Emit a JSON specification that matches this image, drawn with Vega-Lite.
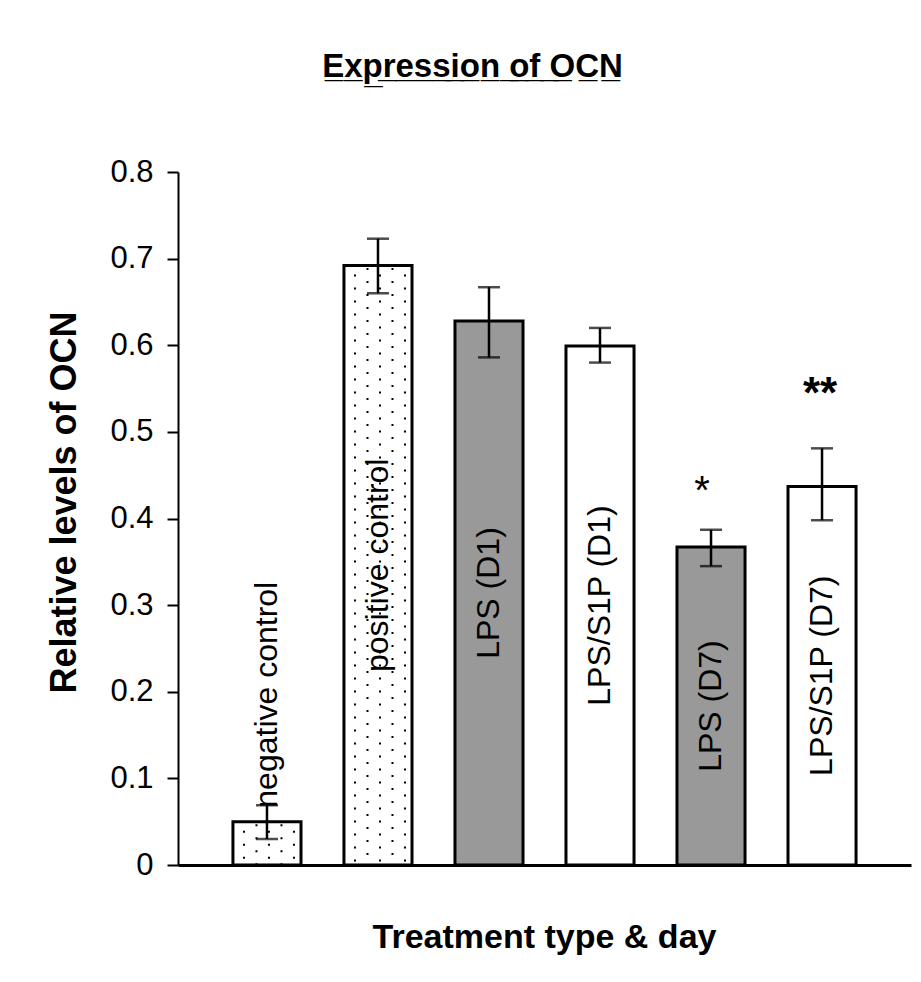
{
  "$schema": "https://vega.github.io/schema/vega-lite/v6.json",
  "width": 733,
  "height": 693,
  "autosize": {"type": "none"},
  "padding": {"left": 178, "top": 172, "right": 10, "bottom": 117},
  "background": "white",
  "config": {
    "view": {"stroke": null},
    "font": "Liberation Sans",
    "text": {"font": "Liberation Sans", "color": "black"}
  },
  "title": {
    "text": "E\u0332x\u0332p\u0332r\u0332e\u0332s\u0332s\u0332i\u0332o\u0332n\u0332 \u0332o\u0332f\u0332 \u0332O\u0332C\u0332N\u0332",
    "anchor": "middle",
    "frame": "group",
    "dx": -72,
    "offset": 46,
    "baseline": "alphabetic",
    "font": "Liberation Sans",
    "fontSize": 33,
    "fontWeight": "bold",
    "color": "black"
  },
  "data": {
    "values": [
      {"label": "negative control", "value": 0.05, "lower": 0.030, "upper": 0.069, "style": "dotted", "sig": ""},
      {"label": "positive control", "value": 0.692, "lower": 0.660, "upper": 0.723, "style": "dotted", "sig": ""},
      {"label": "LPS (D1)", "value": 0.628, "lower": 0.586, "upper": 0.667, "style": "gray", "sig": ""},
      {"label": "LPS/S1P (D1)", "value": 0.599, "lower": 0.580, "upper": 0.620, "style": "white", "sig": ""},
      {"label": "LPS (D7)", "value": 0.367, "lower": 0.345, "upper": 0.387, "style": "gray", "sig": "*"},
      {"label": "LPS/S1P (D7)", "value": 0.437, "lower": 0.398, "upper": 0.481, "style": "white", "sig": "**"}
    ]
  },
  "transform": [{"calculate": "datum.value / 2", "as": "mid"}],
  "encoding": {
    "x": {
      "field": "label",
      "type": "nominal",
      "sort": null,
      "scale": {"paddingInner": 0.387, "paddingOuter": 0.495},
      "axis": {
        "title": "Treatment type & day",
        "labels": false,
        "ticks": false,
        "domainColor": "black",
        "domainWidth": 3,
        "titleFont": "Liberation Sans",
        "titleFontSize": 34,
        "titleFontWeight": "bold",
        "titleColor": "black",
        "titleX": 366,
        "titleY": 72,
        "titleAlign": "center",
        "titleBaseline": "middle"
      }
    }
  },
  "layer": [
    {
      "mark": {"type": "bar", "stroke": "black", "strokeWidth": 3},
      "encoding": {
        "y": {
          "field": "value",
          "type": "quantitative",
          "scale": {"domain": [0, 0.8], "nice": false},
          "axis": {
            "title": "Relative levels of OCN",
            "values": [0, 0.1, 0.2, 0.3, 0.4, 0.5, 0.6, 0.7, 0.8],
            "format": ".1~f",
            "grid": false,
            "labelFont": "Liberation Sans",
            "labelFontSize": 31,
            "labelColor": "black",
            "labelPadding": 14,
            "tickSize": 11,
            "tickWidth": 2,
            "tickColor": "black",
            "domainColor": "black",
            "domainWidth": 2,
            "titleFont": "Liberation Sans",
            "titleFontSize": 36,
            "titleFontWeight": "bold",
            "titleColor": "black",
            "titleAngle": -90,
            "titleX": -114,
            "titleY": 330,
            "titleAlign": "center",
            "titleBaseline": "middle"
          }
        },
        "fill": {
          "field": "style",
          "type": "nominal",
          "scale": {"domain": ["dotted", "gray", "white"], "range": ["white", "#999999", "white"]},
          "legend": null
        }
      }
    },
    {
      "transform": [{"filter": "datum.style == 'dotted'"}],
      "mark": {"type": "rule", "color": "black", "strokeWidth": 2, "strokeDash": [2, 11], "strokeDashOffset": 4, "xOffset": -23},
      "encoding": {"y": {"field": "value", "type": "quantitative"}, "y2": {"datum": 0}}
    },
    {
      "transform": [{"filter": "datum.style == 'dotted'"}],
      "mark": {"type": "rule", "color": "black", "strokeWidth": 2, "strokeDash": [2, 11], "strokeDashOffset": 10.5, "xOffset": -10.5},
      "encoding": {"y": {"field": "value", "type": "quantitative"}, "y2": {"datum": 0}}
    },
    {
      "transform": [{"filter": "datum.style == 'dotted'"}],
      "mark": {"type": "rule", "color": "black", "strokeWidth": 2, "strokeDash": [2, 11], "strokeDashOffset": 4, "xOffset": 2},
      "encoding": {"y": {"field": "value", "type": "quantitative"}, "y2": {"datum": 0}}
    },
    {
      "transform": [{"filter": "datum.style == 'dotted'"}],
      "mark": {"type": "rule", "color": "black", "strokeWidth": 2, "strokeDash": [2, 11], "strokeDashOffset": 10.5, "xOffset": 14.5},
      "encoding": {"y": {"field": "value", "type": "quantitative"}, "y2": {"datum": 0}}
    },
    {
      "transform": [{"filter": "datum.style == 'dotted'"}],
      "mark": {"type": "rule", "color": "black", "strokeWidth": 2, "strokeDash": [2, 11], "strokeDashOffset": 4, "xOffset": 27},
      "encoding": {"y": {"field": "value", "type": "quantitative"}, "y2": {"datum": 0}}
    },
    {
      "transform": [{"filter": "datum.label != 'negative control'"}],
      "mark": {"type": "text", "angle": -90, "align": "center", "baseline": "middle", "fontSize": 32, "font": "Liberation Sans", "color": "black"},
      "encoding": {"y": {"field": "mid", "type": "quantitative"}, "text": {"field": "label"}}
    },
    {
      "transform": [{"filter": "datum.label == 'negative control'"}],
      "mark": {"type": "text", "angle": -90, "align": "left", "baseline": "middle", "dx": 14, "fontSize": 32, "font": "Liberation Sans", "color": "black"},
      "encoding": {"y": {"field": "value", "type": "quantitative"}, "text": {"field": "label"}}
    },
    {
      "mark": {"type": "rule", "color": "black", "strokeWidth": 2.5},
      "encoding": {"y": {"field": "lower", "type": "quantitative"}, "y2": {"field": "upper"}}
    },
    {
      "mark": {"type": "tick", "color": "black", "size": 22, "thickness": 2.5},
      "encoding": {"y": {"field": "lower", "type": "quantitative"}}
    },
    {
      "mark": {"type": "tick", "color": "black", "size": 22, "thickness": 2.5},
      "encoding": {"y": {"field": "upper", "type": "quantitative"}}
    },
    {
      "transform": [{"filter": "datum.sig == '*'"}],
      "mark": {"type": "text", "baseline": "alphabetic", "align": "center", "dx": -9, "dy": -26, "fontSize": 40, "font": "Liberation Sans", "color": "black"},
      "encoding": {"y": {"field": "upper", "type": "quantitative"}, "text": {"field": "sig"}}
    },
    {
      "transform": [{"filter": "datum.sig == '**'"}],
      "mark": {"type": "text", "baseline": "alphabetic", "align": "center", "dx": -2, "dy": -40, "fontSize": 44, "fontWeight": "bold", "font": "Liberation Sans", "color": "black"},
      "encoding": {"y": {"field": "upper", "type": "quantitative"}, "text": {"field": "sig"}}
    }
  ]
}
